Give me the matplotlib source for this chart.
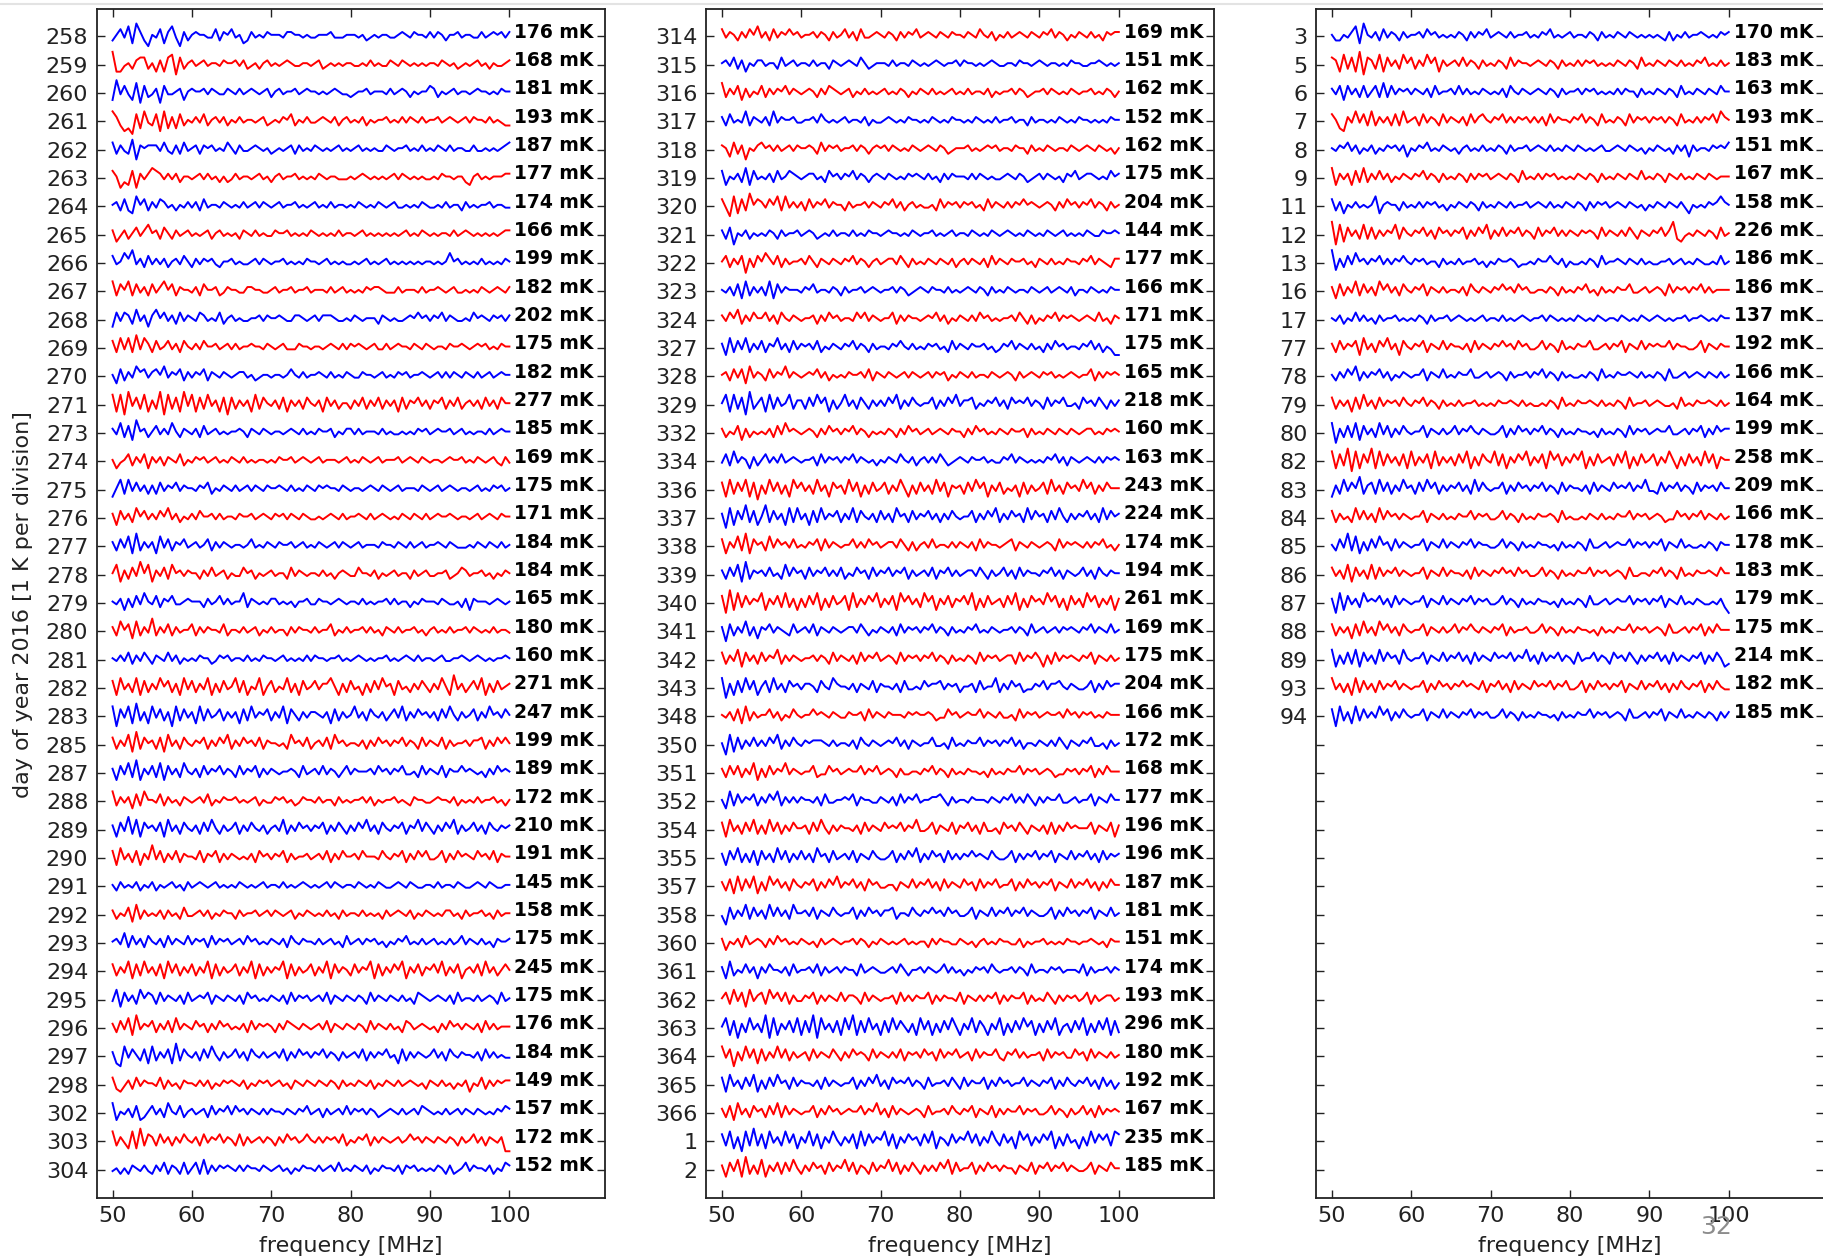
import numpy as np
import matplotlib
matplotlib.use("Agg")
import matplotlib.pyplot as plt
from matplotlib.lines import Line2D

# ---------------- data ----------------
days_left = [258, 259, 260, 261, 262, 263, 264, 265, 266, 267, 268, 269, 270, 271,
             273, 274, 275, 276, 277, 278, 279, 280, 281, 282, 283, 285, 287, 288,
             289, 290, 291, 292, 293, 294, 295, 296, 297, 298, 302, 303, 304]
rms_left = [176, 168, 181, 193, 187, 177, 174, 166, 199, 182, 202, 175, 182, 277,
            185, 169, 175, 171, 184, 184, 165, 180, 160, 271, 247, 199, 189, 172,
            210, 191, 145, 158, 175, 245, 175, 176, 184, 149, 157, 172, 152]

days_mid = [314, 315, 316, 317, 318, 319, 320, 321, 322, 323, 324, 327, 328, 329,
            332, 334, 336, 337, 338, 339, 340, 341, 342, 343, 348, 350, 351, 352,
            354, 355, 357, 358, 360, 361, 362, 363, 364, 365, 366, 1, 2]
rms_mid = [169, 151, 162, 152, 162, 175, 204, 144, 177, 166, 171, 175, 165, 218,
           160, 163, 243, 224, 174, 194, 261, 169, 175, 204, 166, 172, 168, 177,
           196, 196, 187, 181, 151, 174, 193, 296, 180, 192, 167, 235, 185]

days_right = [3, 5, 6, 7, 8, 9, 11, 12, 13, 16, 17, 77, 78, 79, 80, 82, 83, 84,
              85, 86, 87, 88, 89, 93, 94]
rms_right = [170, 183, 163, 193, 151, 167, 158, 226, 186, 186, 137, 192, 166, 164,
             199, 258, 209, 166, 178, 183, 179, 175, 214, 182, 185]

# residuals read (estimated) from the traces, 50-100 MHz; each digit is a level
# in steps of RES_STEP kelvin, centred on 4.5
RES_STEP = 0.1
res_left = [
    "3574829631 5472684163 5655447365 7452364546 5554665545 4455564445 5545345455 4456546554 6465355645 5446456564 6",
    "9224536773 5262781735 6456455465 5646345356 4545654455 4563454545 5445464544 6546545454 5546545345 4564535445 6",
    "2947428173 4617445625 6556465446 5464565456 3564556456 5545456544 3455645554 6456535455 7635456455 4565545465 5",
    "8631207284 3718262735 4647356463 5464554563 4546573546 4456546356 4546354556 4546465464 5564565456 4655464543 3",
    "7364381656 6647436374 5636564547 5364456545 3454563645 4654545645 4564545446 5455645464 5465464554 4644545456 7",
    "7513271646 8764646355 4564645353 4645545645 3564556454 5465455444 5456545454 5646545454 4546554553 2564545556 6",
    "5637328573 6476453546 4637455465 4546456465 4564556454 5645464554 5465454654 5644545465 4454645536 4545564554 4",
    "6246357468 5637536456 4545635645 4536546454 4655645454 6545454645 5456454545 4545645465 4545546456 5454545456 6",
    "7458694637 4646356475 3646564355 6454456465 4556454546 5545645454 4545645456 4545454545 5454585645 4546454546 5",
    "8375837463 7468573655 4637556346 5544665544 5645564556 4555464564 5454656654 4464555464 5565456445 4546545654 6",
    "2747638462 6857463746 5476454735 6454455646 5565446654 5646665445 4654555365 4544565756 4657465445 4756546564 6",
    "7384839486 3745746375 4647556456 4645565546 5456444655 4554565464 6565456446 4565546546 5455465565 4565645465 5",
    "5273648674 6758465736 4657365465 4566453455 4554575464 5565464546 5446554564 5465645565 4564646546 5464564565 5",
    "8281947382 6391837294 8273846271 7364628375 4637264637 5462746355 3647364736 4627365746 3657364735 6463746375 5",
    "6483729563 5746485365 4637456454 5565365465 4554565464 5465563546 6464555464 5445454656 4565564564 5455464565 5",
    "5245736472 6463654735 4656456454 6546454554 5465564565 4564555456 4546545645 5564565465 4554565564 5465456436 4",
    "2583847463 6374657465 5465735465 4645646546 5565464546 5465655465 4554565465 4564555465 4564565455 4564546564 5",
    "6274638574 6475846354 6475564645 5465564565 4656465465 4454565464 5565464565 4546546546 4565565455 4564565465 5",
    "6374829364 6284736574 5645736465 4554574546 5465564564 5465456465 4564555465 5465464564 5565465444 5465465464 5",
    "5826374958 2647385646 5536474563 5447563545 6455374654 5546453565 4475546354 5645536456 4455634576 4556453546 5",
    "5462637485 4736574456 5553645746 4558365454 6645453556 4465545654 5546454556 4645535465 5546544536 2655545654 5",
    "6385728364 9364736455 7364655473 5546456354 6455364655 4645573546 4556464536 5464556453 5645464556 4654546455 4",
    "5464736475 3654746354 5465534656 4554645465 5456454546 4655455645 4565454556 4545654645 5456445565 4565454556 5",
    "7284638273 6485736284 7364826374 5837254825 7354836274 5746685263 7452637485 6274536475 3648529463 5748263745 6",
    "8174829362 8473618374 6283745736 4627384657 3648275364 6654627364 5846375463 5748364756 4637485364 5736485647 5",
    "7364829375 6372846375 4657364758 3647564736 5545385647 3564738564 5546364756 4657465374 6547364556 4667364757 5",
    "6274839264 7382746385 4637465746 5374657364 6545565374 5647465357 4655564756 4657445374 6547365575 6545364756 5",
    "8364627385 5473645365 4564735465 5645456354 4656453465 5464553645 4556463545 5645436554 4565546354 5464556453 5",
    "6274938275 6472846375 4637485364 5736475463 5648364756 4657364753 6475846375 4657365847 5364758364 5746375465 6",
    "7284637264 9473647365 5473657364 6545463756 4657364556 4564736475 5647555475 4657364757 4457364756 5475647365 5",
    "5364546354 6354564536 4565456454 5465454564 5546454565 4545646545 5465454654 4565465445 5464554654 4565465445 5",
    "6354728364 5463645374 4564635465 5364556456 4654563546 5454645364 5546454536 4565463546 5454664536 4556453645 5",
    "5648374637 5463746547 4656374656 4564756454 6546375465 5464564537 4564656453 5465745464 5645464574 6546453655 6",
    "7364827384 6372847364 7364827364 5736482736 4658273645 7364827465 3746582736 4758264736 5748364725 6473846357 5",
    "4827463857 6374654637 4565736546 5463756454 6546374656 4564736546 5465374654 6546453765 4565463745 5464565374 5",
    "6374829465 7364738465 4756364756 4546374656 5364765465 4564736546 5465374654 6453764565 4536475646 5463746455 5",
    "6218475372 8364729375 4637485364 5746375464 5647364756 4657465364 5647364657 4527364654 5746375465 5463746454 4",
    "7324637465 5473645365 5464635465 6546354656 4564536546 5465465364 5465463546 5464565453 6546453546 2547364656 6",
    "8254637235 7463854735 6456374657 4756465464 6554654657 4563645647 4656465345 6546456476 5454645646 5465454657 6",
    "8364282937 6374636475 4637465746 5373645646 5364756457 5464656473 5465736465 4564575646 5465465364 5746365461 1",
    "4535365464 3647365373 5738364656 5464655465 4564535465 5464564745 4654635465 5463656454 5465363457 4655463547 6",
]
res_mid = [
    "7465364758 4637465756 4556465364 5746374456 5465364657 4565465465 5465475463 5464565465 4657465354 6546453656 6",
    "5647362546 6455374564 5546455365 4565475345 5546455465 4545654556 4655454565 4455465545 6545545465 5445565454 5",
    "8364726354 7364657465 4565364765 4563546454 5645465354 6546454564 5464554635 4556465345 5646545465 4556454653 5",
    "6374548365 4638465564 4556475454 5645546354 4565454655 4546545465 5454654546 4556455364 5545465454 6554545465 5",
    "6527361546 7564645646 5565374656 4556465356 5646545465 4565465345 5564545656 4554655364 5465455465 4565465453 5",
    "7254638274 5463745765 4566453756 4657465356 5465454656 5464536465 5546465454 4565465345 6465453657 4566545475 6",
    "7418273957 6475838464 6374657465 5364556465 4657463564 5445374656 4656453746 5464657565 4565364756 4657465364 5",
    "6371546354 5465364556 4565345464 5546454655 4565545465 4556454564 5546545465 4565454654 5465456454 5465446556 5",
    "5736471637 5864736455 6475365465 4657465356 4566475364 5465465463 5646546374 6546556453 6546454655 4657465436 6",
    "5463728364 6382746555 4657455465 3645564565 4556465345 6546554645 4565465364 5465455465 4564565463 5546545465 5",
    "6475836475 5746375465 4556364756 4554757465 4557364655 4565746354 6546475645 4556475363 5465746565 4565474536 5",
    "6283748364 7365846374 6564735465 4657465364 5546575464 5465645374 6546556453 4657465464 5364756455 4657463542 2",
    "5637472846 5374658465 4565746354 5465564736 5465456465 4564656354 6546455465 4565364565 4656454565 4557364656 5",
    "5828371935 7283745836 6374857263 5846375364 6475836475 4557364758 4667354657 4637565746 5374657445 3756475364 6",
    "6354726354 5463748565 4565364756 4657465354 5465364756 4564565465 5364756454 6546556364 5465465465 4566454656 5",
    "4738465263 5746474565 4556374656 4657465453 5465475463 5646475345 6546556454 4657465454 5465746365 4565464656 5",
    "7283748271 6384736285 7463846275 6384726374 5736485263 7463847265 6374857264 7354627364 5738463756 4857364755 5",
    "6182749372 5937462838 4627384657 3648375463 7463856374 6574636475 4557364758 3647563847 5637485364 6574638475 6",
    "7264839275 6384756474 5465737465 4557464756 4566475363 5647455464 6546374655 4567365465 4565374656 5464657453 5",
    "6374829365 6474538475 6374657464 7354756374 6574657364 5647365746 4566475364 5746374655 4657463654 5746375465 5",
    "7192837465 8264738362 6374826374 5728364758 3647285746 3857264736 5748263745 6374826375 6485736274 6385736472 6",
    "6173648362 6574654374 5647365465 4566475354 6546374656 4657465364 5465745465 4556465374 5645646565 4657465474 5",
    "7364827463 7465836465 4556465374 6546374657 4565374656 4657465364 5465374656 4566374657 5263746565 4657365464 5",
    "8162738472 5738463756 4665375486 5546365473 6554637445 4756674656 3556374558 3647563446 5746675465 4457364756 6",
    "5463728364 5574635475 4557565465 4465563746 5465554656 5565344756 4565574654 6445374656 4565564756 4656454655 5",
    "5182736474 6475836475 4656665464 5546375465 4565746365 4557445374 5465574656 4657463554 6546475365 4657445364 5",
    "6374736482 6374658465 4557344756 4565574657 4565364455 4657465364 5465545364 5465574656 4565344656 4657364755 5",
    "5283746573 6475836464 6554637445 5657365544 6546374657 4556675364 5546555465 4657464753 6465574456 4557365475 5",
    "7284637483 6384736475 5637485364 6554637465 4756574658 4457365473 6574637445 3756475365 4637364756 5557365472 6",
    "6274836372 7463847364 7463856374 5647365475 4457364758 3647563746 4657565475 4457364657 4657365474 6574637465 6",
    "6372837482 6385746375 4657364758 4657463756 4455365474 6574637465 4756374657 4557364756 4657365474 6574636475 5",
    "4173648374 6384746385 5647365475 4557364756 4667355475 4657564756 4457365474 6574657465 4457364756 4657365474 5",
    "6254637456 5364756454 6545364565 4556465354 6545456454 5536465544 6545356454 6554463545 5645454655 4556545365 5",
    "6283547462 6475546374 5564736456 4655374565 4456475355 6465457464 5354656475 4556465374 5546564555 4736455646 5",
    "5738472846 7385747364 4657364654 7466537465 4556374646 5573646554 7365464657 3646557364 5475364656 4573645664 5",
    "5827163846 3918264738 2739184637 2849273846 2738475362 8472637485 2648375264 8263748572 6374825637 4826374827 3",
    "8471638472 7364847364 5637465475 3647565374 6546473656 4756374657 4563746557 4365746455 6374656447 5637465464 5",
    "7284637482 6374856374 6554637465 4557364758 4637565746 5374556475 3746557364 7564557465 4657364754 6574637463 5",
    "6372846375 6374837465 4557364756 4565574658 4637465456 5374556475 4657365473 6465574656 4457465364 5746374656 5",
    "7382618393 7284638472 6483726485 3647283746 5837264756 3748265374 6584736485 3746285736 4758263745 2638475738 7",
    "6274829363 8264737485 3647563746 5847365374 6584736475 3646475837 4557364756 4655365473 6574657465 4457365475 5",
]
res_right = [
    "5335468295 4637465364 5564756454 5465364657 4565464556 4546574545 6455465364 5465465454 5454363546 4556545465 6",
    "7628372917 6382746385 7364857264 5647465364 5465374655 4565465364 5464656454 5465465374 5465465464 5465745464 5",
    "6472746373 5738374656 4654637455 6474645465 4546375465 4565465364 5564656454 5464655364 5465465374 5465465475 5",
    "7521648473 8364637384 5637465374 6546374675 4657464656 4646374655 4657465374 5465374656 4656465374 5464657486 5",
    "5465746354 6354656462 5465745465 4535645464 5465364556 4565464546 5465454564 4565465453 5465453646 2645546565 7",
    "8264627383 6474635465 4657465364 5465364656 4565465374 5464656454 5465465364 5465465474 5465365464 5465465455 5",
    "7362546454 5825655364 5464656453 5465465364 5465464556 4565464546 5465364656 4565465453 5465465464 2545465686 5",
    "9182746383 7364658375 4657463756 4657364758 3647465746 5374657464 6546565374 6546475365 4657469324 5465465374 5",
    "9263748564 6574646575 4656455364 5464556453 5465565344 5465575463 5445465374 5565465464 5445564564 5465445474 5",
    "6273648374 6385746375 4657365464 5546375465 4657564756 4455465364 5465745364 5465574456 4565374656 4657464555 5",
    "5463547464 5364556454 5465364556 4565454564 5546454565 4556465454 5465454654 5546545465 4565454556 4556545465 5",
    "6374657284 6375846275 4657365474 6554637465 4657564756 4457465374 5465574456 4657365474 6565574655 4457365465 5",
    "5364758364 6574635465 4557365474 5465574456 4565364556 4657465364 5445465374 5465565464 5465374456 4565465464 5",
    "7364627384 6374656475 4657465364 5464556454 5465565464 5445465374 5465565464 5465374556 4565445374 5465565464 5",
    "8163738274 6384736475 4557365464 5746575465 4457364756 4657465364 5465545364 5465374656 4565574456 4657364756 6",
    "8273918274 9283746372 8364728364 6374826375 4837264758 3647285736 4758263745 6374826374 5736485263 7463847265 5",
    "2638475936 7384736485 6374857364 6574638475 4557364756 4657465374 6554637465 4756574658 4437465746 5374656475 5",
    "7364538474 6384756465 4557365464 5465574656 4457465364 5465565374 5445465464 5465574656 4565344756 4657465464 5",
    "5374938263 7485637465 4557365474 6546574655 4457465364 5465545364 5465374456 4565574656 4657365474 5445465365 5",
    "7463827463 8374657465 4557365474 6554637465 4657564756 4457465364 5465574656 4565374455 4657465374 5465565475 5",
    "6182746385 6574637465 4557365474 6546574656 4457465364 5465545364 5465374456 4565574656 4657365474 5465445463 1",
    "7364627384 6385746375 4557365464 5746575465 4657364556 4457465364 5465545364 5465574656 4565374456 4657364755 5",
    "8263738274 6384756385 4557365474 6574637465 4756574658 4637465746 5374557465 3756475364 6574637465 4657364752 3",
    "8463628374 6374657465 4557364756 4657565473 6574637465 4756574657 4457364756 4657365474 6574636475 4657364754 4",
    "7183628374 6485736475 4557365474 6546574656 4457465364 5465545364 5465574656 4565374456 4657365474 5465465364 6",
]

freq_ticks = [50, 60, 70, 80, 90, 100]
n_slots = 41


def decode(s):
    d = np.array([int(c) for c in s.replace(" ", "")], dtype=float)
    return (d - 4.5) * RES_STEP


fig = plt.figure(figsize=(18.24, 12.6), dpi=100)

panels = [(days_left, rms_left, res_left),
          (days_mid, rms_mid, res_mid),
          (days_right, rms_right, res_right)]
lefts = [0.0530, 0.3871, 0.7215]
bottom, height, width = 0.0492, 0.9434, 0.2785

count = 0
for k, (days, rms, res) in enumerate(panels):
    ax = fig.add_axes([lefts[k], bottom, width, height])
    for i, (day, r, s) in enumerate(zip(days, rms, res)):
        y = decode(s)
        f = np.linspace(50, 100, len(y))
        col = '#0000ff' if count % 2 == 0 else '#ff0000'
        ax.plot(f, y - i, color=col, lw=1.4)
        ax.text(100.6, -i - 0.05, f"{r} mK", fontsize=13.5, fontweight='bold',
                ha='left', va='baseline', color='black')
        count += 1
    ax.set_xlim(48, 112)
    ax.set_ylim(-n_slots, 0.95)
    ax.set_yticks(-np.arange(n_slots))
    ax.set_yticklabels([str(d) for d in days] + [''] * (n_slots - len(days)))
    ax.set_xticks(freq_ticks)
    ax.set_xticklabels([str(t) for t in freq_ticks])
    ax.tick_params(direction='in', top=True, right=True, length=6, width=1.0,
                   labelsize=16, pad=6, colors='#222222')
    for sp in ax.spines.values():
        sp.set_linewidth(1.3)
        sp.set_color('#222222')
    ax.set_xlabel('frequency [MHz]', fontsize=16, color='#222222')
    ax.xaxis.set_label_coords(0.5, -0.032)

fig.text(0.0127, 0.52, 'day of year 2016 [1 K per division]', rotation=90,
         ha='center', va='center', fontsize=16, color='#222222')
# slide page number (overlaps the last tick label, as in the reference)
fig.text(1716 / 1824, 1 - 1227 / 1260, '32', color='#8c8c8c', fontsize=18,
         ha='center', va='center')
fig.add_artist(Line2D([0, 1], [0.9968, 0.9968], transform=fig.transFigure,
                      color='#e3e3e3', lw=1.5))

fig.savefig('out.png', dpi=100)
